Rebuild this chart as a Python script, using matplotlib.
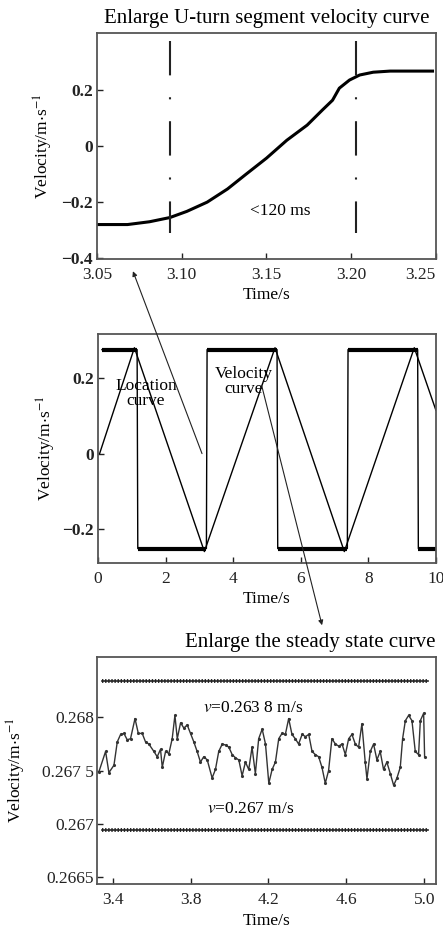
import matplotlib
matplotlib.use("Agg")
import matplotlib.pyplot as plt
from matplotlib.patches import ConnectionPatch

plt.rcParams['font.family'] = ['Liberation Serif', 'DejaVu Serif']
plt.rcParams['mathtext.fontset'] = 'stix'
plt.rcParams['font.size'] = 12.5

# --- top panel: U-turn velocity ---
uturn_t = [3.050, 3.068, 3.081, 3.093, 3.103, 3.115, 3.127, 3.138, 3.150, 3.162,
           3.174, 3.183, 3.189, 3.193, 3.199, 3.205, 3.213, 3.223, 3.248]
uturn_v = [-0.280, -0.280, -0.270, -0.255, -0.233, -0.200, -0.153, -0.100, -0.043, 0.021,
           0.075, 0.129, 0.164, 0.207, 0.236, 0.254, 0.264, 0.268, 0.268]
marker_t = [3.093, 3.203]
marker_span = [0.375, -0.31]

# --- middle panel: full run ---
vel_t = [0.12, 1.16, 1.18, 3.21, 3.23, 5.30, 5.32, 7.38, 7.40, 9.46, 9.48, 10.0]
vel_v = [0.276, 0.276, -0.252, -0.252, 0.276, 0.276, -0.252, -0.252, 0.276, 0.276, -0.252, -0.252]
loc_t = [0.05, 1.08, 3.15, 5.24, 7.29, 9.36, 10.0]
loc_v = [0.0, 0.281, -0.26, 0.281, -0.26, 0.281, 0.115]

# --- bottom panel: steady state ---
steady_t = [3.330, 3.364, 3.381, 3.407, 3.424, 3.441, 3.458, 3.475, 3.492, 3.515,
            3.532, 3.552, 3.569, 3.586, 3.612, 3.629, 3.646, 3.655, 3.672, 3.689,
            3.706, 3.720, 3.732, 3.749, 3.766, 3.783, 3.800, 3.817, 3.834, 3.851,
            3.868, 3.886, 3.911, 3.928, 3.945, 3.963, 3.980, 3.997, 4.014, 4.031,
            4.048, 4.065, 4.082, 4.099, 4.116, 4.133, 4.150, 4.168, 4.185, 4.202,
            4.219, 4.236, 4.253, 4.270, 4.287, 4.304, 4.321, 4.338, 4.355, 4.373,
            4.390, 4.407, 4.424, 4.441, 4.458, 4.475, 4.492, 4.509, 4.526, 4.544,
            4.561, 4.578, 4.595, 4.612, 4.629, 4.646, 4.663, 4.680, 4.697, 4.706,
            4.723, 4.740, 4.757, 4.774, 4.791, 4.808, 4.826, 4.843, 4.860, 4.877,
            4.889, 4.903, 4.920, 4.937, 4.954, 4.971, 4.980, 4.997, 5.002]
steady_v = [0.26749, 0.26768, 0.26748, 0.26755, 0.26777, 0.26784, 0.26785, 0.26779, 0.26780, 0.26799,
            0.26785, 0.26785, 0.26777, 0.26775, 0.26768, 0.26763, 0.26770, 0.26753, 0.26768, 0.26766,
            0.26780, 0.26802, 0.26780, 0.26795, 0.26790, 0.26793, 0.26785, 0.26777, 0.26768, 0.26758,
            0.26763, 0.26760, 0.26743, 0.26751, 0.26768, 0.26775, 0.26774, 0.26772, 0.26765, 0.26762,
            0.26760, 0.26745, 0.26758, 0.26751, 0.26772, 0.26747, 0.26780, 0.26789, 0.26775, 0.26738,
            0.26751, 0.26758, 0.26780, 0.26785, 0.26784, 0.26799, 0.26784, 0.26780, 0.26775, 0.26784,
            0.26782, 0.26784, 0.26768, 0.26765, 0.26763, 0.26753, 0.26738, 0.26750, 0.26780, 0.26775,
            0.26773, 0.26775, 0.26765, 0.26780, 0.26784, 0.26775, 0.26772, 0.26794, 0.26758, 0.26742,
            0.26768, 0.26775, 0.26760, 0.26768, 0.26751, 0.26758, 0.26747, 0.26736, 0.26743, 0.26753,
            0.26780, 0.26797, 0.26802, 0.26797, 0.26768, 0.26765, 0.26797, 0.26804, 0.26763]
ref_span = [3.345, 5.02]
ref_upper = 0.26834
ref_lower = 0.26694

ylab = 'Velocity/m$\\cdot$s$^{-1}$'
spine_col = '#555555'


def style(ax):
    for s in ax.spines.values():
        s.set_color(spine_col)
        s.set_linewidth(1.3)
    ax.tick_params(direction='in', length=4, width=1, pad=3, colors='#222222')


fig = plt.figure(figsize=(4.43, 9.35), dpi=100)

# top
ax1 = fig.add_axes([0.219, 0.723, 0.765, 0.2417])
ax1.plot(uturn_t, uturn_v, color='black', lw=2.2)
for mt in marker_t:
    ax1.plot([mt, mt], marker_span, color='#222222', lw=1.5,
             linestyle=(0, (16.5, 10.5, 1, 10.5)))
ax1.text(3.158, -0.233, '<120 ms', ha='center', va='center')
ax1.set_xlim(3.05, 3.25)
ax1.set_ylim(-0.403, 0.404)
ax1.set_xticks([3.05, 3.10, 3.15, 3.20, 3.25])
ax1.set_xticklabels(['3.05', '3.10', '3.15', '3.20', '3.25'])
ax1.get_xticklabels()[-1].set_horizontalalignment('right')
ax1.set_yticks([-0.4, -0.2, 0, 0.2])
ax1.set_yticklabels(['\u22120.4', '\u22120.2', '0', '0.2'], fontweight='bold')
ax1.set_xlabel('Time/s', labelpad=3)
ax1.set_ylabel(ylab)
ax1.yaxis.set_label_coords(-0.124, 0.5)
ax1.set_title('Enlarge U-turn segment velocity curve', pad=7)
style(ax1)
ax1.tick_params(axis='x', pad=6)

# middle
ax2 = fig.add_axes([0.221, 0.398, 0.763, 0.245])
ax2.plot(vel_t, vel_v, color='black', lw=1.0)
for i in range(0, len(vel_t), 2):
    ax2.plot(vel_t[i:i + 2], vel_v[i:i + 2], color='black', lw=3.0, solid_capstyle='butt')
ax2.plot(loc_t, loc_v, color='black', lw=1.0)
ax2.text(1.42, 0.16, 'Location\ncurve', ha='center', va='center', linespacing=0.95)
ax2.text(4.32, 0.192, 'Velocity\ncurve', ha='center', va='center', linespacing=0.95)
ax2.set_xlim(0, 10)
ax2.set_ylim(-0.29, 0.318)
ax2.set_xticks([0, 2, 4, 6, 8, 10])
ax2.set_yticks([-0.2, 0, 0.2])
ax2.set_yticklabels(['\u22120.2', '0', '0.2'], fontweight='bold')
ax2.set_xlabel('Time/s', labelpad=3)
ax2.set_ylabel(ylab)
ax2.yaxis.set_label_coords(-0.118, 0.5)
style(ax2)
ax2.tick_params(axis='x', pad=6)

# bottom
ax3 = fig.add_axes([0.219, 0.0545, 0.765, 0.2428])
ax3.plot(steady_t, steady_v, color='#333333', lw=1.0, marker='.', ms=2.5)
for rv in (ref_upper, ref_lower):
    ax3.plot(ref_span, [rv, rv], color='#222222', lw=1.2)
    ax3.plot(ref_span, [rv, rv], color='#222222', lw=2.8, linestyle=(0, (0.35, 0.45)))
ax3.text(4.12, 0.26809, '$v$=0.263 8 m/s', ha='center', va='center')
ax3.text(4.11, 0.26714, '$v$=0.267 m/s', ha='center', va='center')
ax3.set_xlim(3.32, 5.06)
ax3.set_ylim(0.26643, 0.26857)
ax3.set_xticks([3.4, 3.8, 4.2, 4.6, 5.0])
ax3.set_xticklabels(['3.4', '3.8', '4.2', '4.6', '5.0'])
ax3.set_yticks([0.2665, 0.267, 0.2675, 0.268])
ax3.set_yticklabels(['0.2665', '0.267', '0.267 5', '0.268'])
ax3.set_xlabel('Time/s', labelpad=3)
ax3.set_ylabel(ylab)
ax3.yaxis.set_label_coords(-0.204, 0.5)
ax3.set_title('Enlarge the steady state curve', loc='right', pad=7)
style(ax3)
ax3.tick_params(axis='y', pad=2)
ax3.tick_params(axis='x', pad=6)

# arrows linking the panels
arr1 = ConnectionPatch(xyA=(3.08, 0.0), coordsA=ax2.transData,
                       xyB=(0.106, -0.054), coordsB=ax1.transAxes,
                       arrowstyle='-|>', mutation_scale=7, lw=0.8, color='#222222')
fig.add_artist(arr1)
arr2 = ConnectionPatch(xyA=(4.85, 0.179), coordsA=ax2.transData,
                       xyB=(0.664, 1.14), coordsB=ax3.transAxes,
                       arrowstyle='-|>', mutation_scale=7, lw=0.8, color='#222222')
fig.add_artist(arr2)

fig.savefig('out.png', dpi=100)
